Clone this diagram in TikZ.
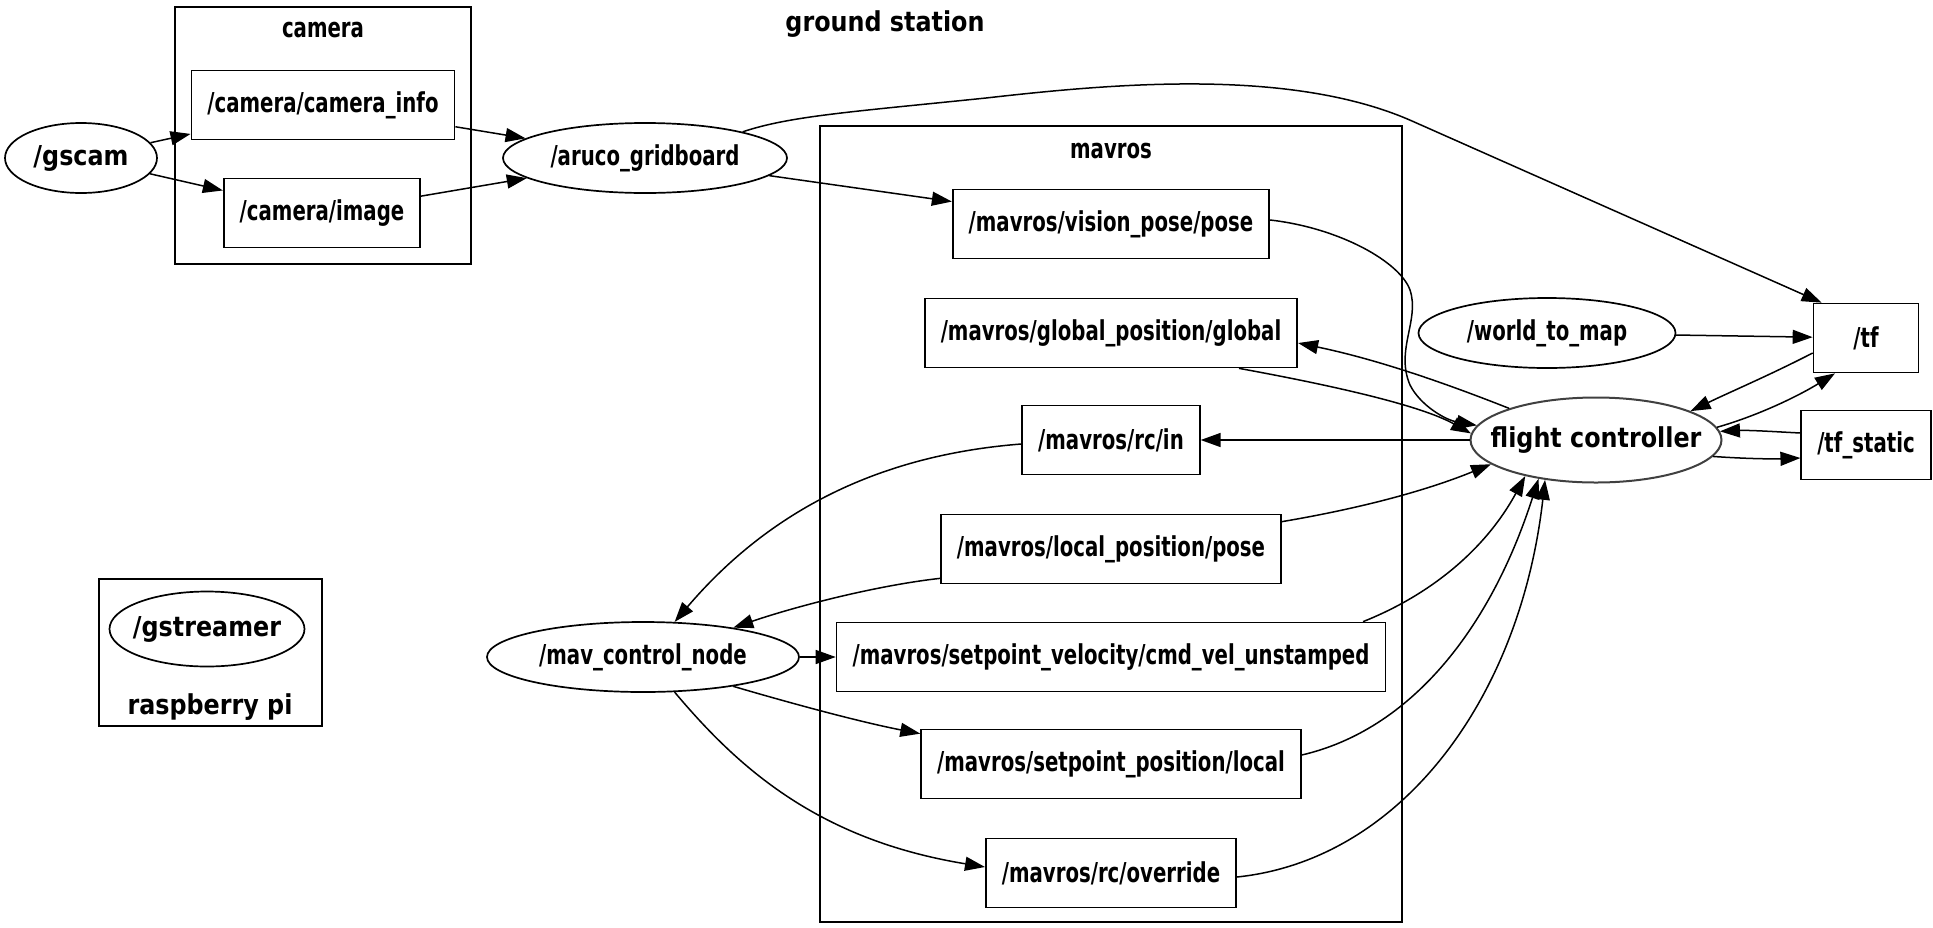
\documentclass[tikz,border=0pt]{standalone}
\usepackage{fontspec}
\setmainfont{DejaVu Sans}
\newfontfamily\narrowfont{DejaVu Sans}[FakeStretch=0.72]
\newfontfamily\roundfont{DejaVu Sans}[FakeStretch=0.87]
\usetikzlibrary{arrows.meta,shapes.geometric}

\begin{document}
\begin{tikzpicture}[x=1pt,y=-1pt,line width=1.5pt,
    >={Triangle[length=20pt,width=14pt]},
    condtext/.style={font=\narrowfont\bfseries\fontsize{27.4}{32}\selectfont},
    widetext/.style={font=\roundfont\bfseries\fontsize{27.4}{32}\selectfont},
    topic/.style={draw, rectangle, line width=1.7pt, condtext,
        minimum width=105pt, minimum height=69pt, inner xsep=16pt},
    proc/.style={draw, ellipse, line width=1.7pt, condtext,
        minimum height=70pt, inner xsep=-20pt, inner ysep=0pt},
    cluster/.style={draw, rectangle, line width=1.7pt, inner sep=0pt}]
    \useasboundingbox (0,0) rectangle (1933,927);

    \node[cluster, minimum width=296pt, minimum height=257pt] (camBox) at (323,135.5) {};
    \node[cluster, minimum width=582pt, minimum height=796pt] (mavBox) at (1111,524) {};
    \node[cluster, minimum width=223pt, minimum height=147pt] (piBox) at (210.5,652.5) {};
    \node[widetext] (gsLabel) at (885,24.5) {ground station};
    \node[condtext] (camLabel) at (323,30.5) {camera};
    \node[condtext] (mavLabel) at (1111,151.5) {mavros};
    \node[widetext] (piLabel) at (210,707.5) {raspberry pi};

    \node[proc, widetext, minimum width=152pt] (gscam) at (81,158) {/gscam};
    \node[topic] (camInfo) at (323,105) {/camera/camera\_info};
    \node[topic] (camImage) at (322,213) {/camera/image};
    \node[proc, minimum width=284pt] (aruco) at (645,158) {/aruco\_gridboard};
    \node[topic] (vision) at (1111,224) {/mavros/vision\_pose/pose};
    \node[topic] (global) at (1111,333) {/mavros/global\_position/global};
    \node[topic] (rcin) at (1111,440) {/mavros/rc/in};
    \node[topic] (localpos) at (1111,549) {/mavros/local\_position/pose};
    \node[topic] (cmdvel) at (1111,657) {/mavros/setpoint\_velocity/cmd\_vel\_unstamped};
    \node[topic] (setpos) at (1111,764) {/mavros/setpoint\_position/local};
    \node[topic] (rcover) at (1111,873) {/mavros/rc/override};
    \node[proc, minimum width=312pt] (mavctrl) at (643,657) {/mav\_control\_node};
    \node[proc, widetext, minimum width=195pt, minimum height=75pt] (gstreamer) at (207,629) {/gstreamer};
    \node[proc, minimum width=257pt] (w2m) at (1547,333) {/world\_to\_map};
    \node[topic] (tf) at (1866,338) {/tf};
    \node[proc, widetext, draw=black!75, line width=2pt, minimum width=251pt, minimum height=85pt] (fc) at (1596,440) {flight controller};
    \node[topic] (tfstatic) at (1866,445) {/tf\_static};

    \draw [->] (gscam) -- (camInfo);
    \draw [->] (gscam) -- (camImage);
    \draw [->] (camInfo) -- (aruco);
    \draw [->] (camImage) -- (aruco);
    \draw [->] (aruco) -- (vision);
    \draw [->] (aruco.15) .. controls (790,116) and (850,112) .. (986,98)
        .. controls (1110,84) and (1290,67) .. (1412,121) -- ([xshift=9pt]tf.north west);
    \draw [->] ([yshift=4pt]vision.east) .. controls (1340,228) and (1400,262) .. (1410,290)
        .. controls (1420,320) and (1395,350) .. (1410,385)
        .. controls (1420,405) and (1445,420) .. (fc.173);
    \draw [->] (fc.160) .. controls (1450,385) and (1380,360) .. ([yshift=-10pt]global.east);
    \draw [->] ([xshift=128pt]global.south) .. controls (1330,385) and (1420,405) .. (fc.177);
    \draw [->] (fc) -- (rcin);
    \draw [->] ([yshift=-4pt]rcin.west) .. controls (880,455) and (770,510) .. (mavctrl.48);
    \draw [->] ([yshift=-8pt]localpos.north east) .. controls (1380,505) and (1440,485) .. (fc.193);
    \draw [->] ([yshift=6pt]localpos.south west) .. controls (880,585) and (800,605) .. (mavctrl.18);
    \draw [->] (mavctrl) -- (cmdvel);
    \draw [->] ([xshift=252pt]cmdvel.north) .. controls (1430,595) and (1485,550) .. (fc.207);
    \draw [->] (mavctrl.-18) .. controls (790,703) and (860,722) .. ([yshift=-5pt]setpos.north west);
    \draw [->] ([yshift=9pt]setpos.east) .. controls (1410,730) and (1490,630) .. (fc.214);
    \draw [->] (mavctrl.-48) .. controls (740,770) and (820,840) .. ([yshift=6pt]rcover.west);
    \draw [->] ([yshift=-4pt]rcover.east) .. controls (1400,860) and (1520,700) .. (fc.218);
    \draw [->] (w2m) -- (tf);
    \draw [->] ([yshift=-15pt]tf.west) .. controls (1770,375) and (1730,392) .. (fc.17);
    \draw [->] (fc.6) .. controls (1760,415) and (1800,395) .. ([xshift=-31pt]tf.south);
    \draw [->] ([yshift=12pt]tfstatic.west) .. controls (1780,432) and (1750,430) .. (fc.4);
    \draw [->] (fc.-8) .. controls (1750,459) and (1775,459) .. ([yshift=-13pt]tfstatic.west);
\end{tikzpicture}
\end{document}
